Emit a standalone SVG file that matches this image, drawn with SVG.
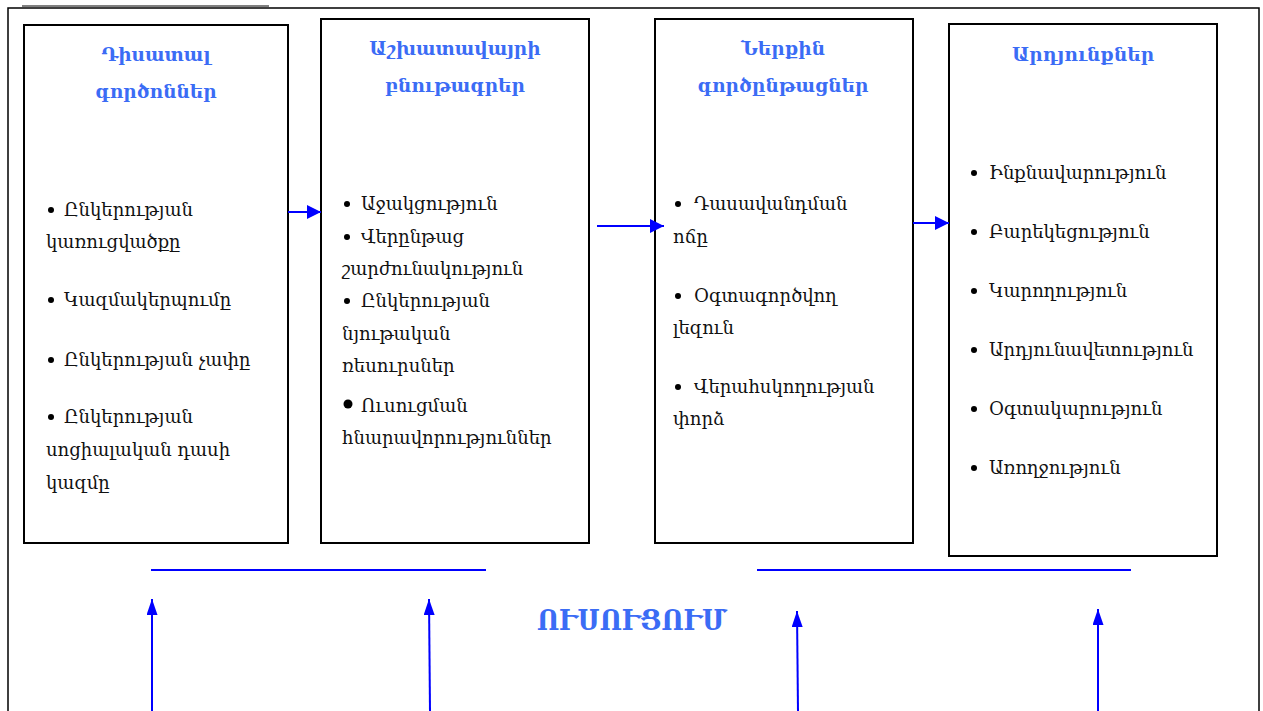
<svg xmlns="http://www.w3.org/2000/svg" width="1263" height="711" viewBox="0 0 1263 711">
<style>
.box{fill:#fff;stroke:#000;stroke-width:2}
.hd{font-family:"DejaVu Serif","Noto Serif",serif;font-weight:bold;font-size:18.5px;fill:#3b6cf5;text-anchor:middle}
.tx{font-family:"DejaVu Serif","Noto Serif",serif;font-size:18px;fill:#111}
.bl{fill:#000}
.con{stroke:#0000ff;stroke-width:2;fill:none}
</style>
<defs>
<marker id="ah" viewBox="0 0 14 14" refX="14" refY="7" markerWidth="14" markerHeight="14" markerUnits="userSpaceOnUse" orient="auto">
<path d="M0,0 L14,7 L0,14 z" fill="#0000ff"/>
</marker>
<marker id="av" viewBox="0 0 16 11" refX="16" refY="5.5" markerWidth="16" markerHeight="11" markerUnits="userSpaceOnUse" orient="auto">
<path d="M0,0 L16,5.5 L0,11 z" fill="#0000ff"/>
</marker>
</defs>
<rect width="1263" height="711" fill="#fff"/>
<line x1="22" y1="6" x2="269" y2="6" stroke="#000" stroke-width="1"/>
<path d="M8,711 V8 H1259 V711" fill="none" stroke="#000" stroke-width="1.5"/>

<g id="node-distal">
<rect class="box" x="24" y="25" width="264" height="518"/>
<text class="hd" x="156" y="61">Դիսատալ</text>
<text class="hd" x="156" y="98">գործոններ</text>
<circle class="bl" cx="51" cy="210" r="3"/>
<text class="tx" x="64" y="216">Ընկերության</text>
<text class="tx" x="46" y="248">կառուցվածքը</text>
<circle class="bl" cx="51" cy="300" r="3"/>
<text class="tx" x="64" y="306">Կազմակերպումը</text>
<circle class="bl" cx="51" cy="360" r="3"/>
<text class="tx" x="64" y="366">Ընկերության չափը</text>
<circle class="bl" cx="51" cy="417" r="3"/>
<text class="tx" x="64" y="423">Ընկերության</text>
<text class="tx" x="46" y="456">սոցիալական դասի</text>
<text class="tx" x="46" y="489">կազմը</text>
</g>

<g id="node-workplace">
<rect class="box" x="321" y="19" width="268" height="524"/>
<text class="hd" x="455" y="55">Աշխատավայրի</text>
<text class="hd" x="455" y="92">բնութագրեր</text>
<circle class="bl" cx="347" cy="204" r="3"/>
<text class="tx" x="361" y="210">Աջակցություն</text>
<circle class="bl" cx="347" cy="237" r="3"/>
<text class="tx" x="361" y="243">Վերընթաց</text>
<text class="tx" x="342" y="275">շարժունակություն</text>
<circle class="bl" cx="347" cy="301" r="3"/>
<text class="tx" x="361" y="307">Ընկերության</text>
<text class="tx" x="342" y="340">նյութական</text>
<text class="tx" x="342" y="372">ռեսուրսներ</text>
<circle class="bl" cx="348" cy="404" r="4.5"/>
<text class="tx" x="361" y="412">Ուսուցման</text>
<text class="tx" x="342" y="444">հնարավորություններ</text>
</g>

<g id="node-internal">
<rect class="box" x="655" y="19" width="258" height="524"/>
<text class="hd" x="783" y="55">Ներքին</text>
<text class="hd" x="783" y="92">գործընթացներ</text>
<circle class="bl" cx="678" cy="204" r="3"/>
<text class="tx" x="694" y="210">Դասավանդման</text>
<text class="tx" x="673" y="243">ոճը</text>
<circle class="bl" cx="678" cy="296" r="3"/>
<text class="tx" x="694" y="302">Օգտագործվող</text>
<text class="tx" x="673" y="334">լեզուն</text>
<circle class="bl" cx="678" cy="387" r="3"/>
<text class="tx" x="694" y="393">Վերահսկողության</text>
<text class="tx" x="673" y="425">փորձ</text>
</g>

<g id="node-outcomes">
<rect class="box" x="949" y="24" width="268" height="532"/>
<text class="hd" x="1083" y="61">Արդյունքներ</text>
<circle class="bl" cx="974" cy="173" r="3"/>
<text class="tx" x="989" y="179">Ինքնավարություն</text>
<circle class="bl" cx="974" cy="232" r="3"/>
<text class="tx" x="989" y="238">Բարեկեցություն</text>
<circle class="bl" cx="974" cy="291" r="3"/>
<text class="tx" x="989" y="297">Կարողություն</text>
<circle class="bl" cx="974" cy="350" r="3"/>
<text class="tx" x="989" y="356">Արդյունավետություն</text>
<circle class="bl" cx="974" cy="409" r="3"/>
<text class="tx" x="989" y="415">Օգտակարություն</text>
<circle class="bl" cx="974" cy="468" r="3"/>
<text class="tx" x="989" y="474">Առողջություն</text>
</g>

<g id="node-learning">
<text x="632" y="630" font-family="DejaVu Serif,serif" font-weight="bold" font-size="28" fill="#3b6cf5" text-anchor="middle" textLength="190" lengthAdjust="spacingAndGlyphs">ՈՒՍՈՒՑՈՒՄ</text>
</g>

<g id="connectors">
<line class="con" x1="288" y1="212" x2="321" y2="212" marker-end="url(#ah)"/>
<line class="con" x1="597" y1="226" x2="664" y2="226" marker-end="url(#ah)"/>
<line class="con" x1="913" y1="223" x2="949" y2="223" marker-end="url(#ah)"/>
<line class="con" x1="151" y1="570" x2="486" y2="570"/>
<line class="con" x1="757" y1="570" x2="1131" y2="570"/>
<line class="con" x1="152" y1="711" x2="152" y2="599" marker-end="url(#av)"/>
<line class="con" x1="430" y1="711" x2="429" y2="599" marker-end="url(#av)"/>
<line class="con" x1="798" y1="711" x2="797" y2="611" marker-end="url(#av)"/>
<line class="con" x1="1098" y1="711" x2="1098" y2="609" marker-end="url(#av)"/>
</g>
</svg>
